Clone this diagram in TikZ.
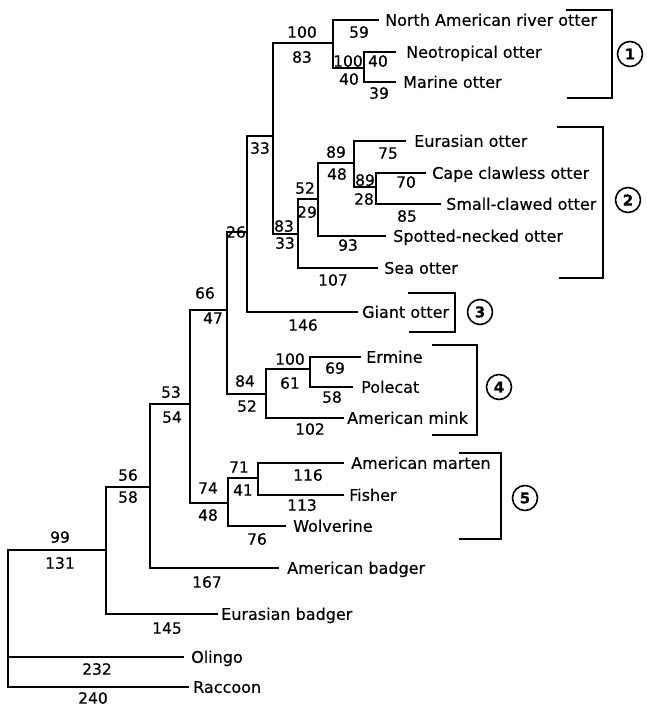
\documentclass[tikz,border=0pt]{standalone}
\usepackage{fontspec}
\setmainfont{DejaVu Sans}[FakeBold=0.4]
\begin{document}
\begin{tikzpicture}[x=1pt,y=-1pt,
  br/.style={line width=1.7pt, line cap=rect},
  leaf/.style={anchor=west, inner sep=0pt, text height=11.6pt, text depth=0pt, font=\fontsize{16}{18}\selectfont},
  num/.style={inner sep=0pt, text height=11.4pt, text depth=0pt, font=\fontsize{15.5}{18}\selectfont},
  grp/.style={circle, draw, line width=1.6pt, minimum size=25pt, inner sep=0pt, font=\fontsize{15}{18}\selectfont\bfseries}]
\useasboundingbox (0,0) rectangle (647,706);
% internal nodes (x of vertical, y of incoming branch)
\coordinate (R) at (8,550);
\coordinate (A) at (106,550);
\coordinate (B) at (150,487);
\coordinate (C) at (190,404);
\coordinate (D) at (228,503);
\coordinate (E) at (258,478);
\coordinate (F) at (227,310);
\coordinate (G) at (247,232);
\coordinate (H) at (273,136);
\coordinate (K) at (333,43);
\coordinate (P) at (364,68);
\coordinate (L) at (298,234);
\coordinate (M) at (318,199);
\coordinate (N) at (354,163);
\coordinate (O) at (376,187);
\coordinate (I) at (266,394);
\coordinate (J) at (310,369);
% leaves
\node[leaf] (nar) at (385,20) {North American river otter};
\node[leaf] (neo) at (406,52) {Neotropical otter};
\node[leaf] (mar) at (403,82) {Marine otter};
\node[leaf] (eur) at (414,141) {Eurasian otter};
\node[leaf] (cap) at (432,173) {Cape clawless otter};
\node[leaf] (sma) at (446,204) {Small-clawed otter};
\node[leaf] (spo) at (393,236) {Spotted-necked otter};
\node[leaf] (sea) at (384,268) {Sea otter};
\node[leaf] (gia) at (362,312) {Giant otter};
\node[leaf] (erm) at (366,357) {Ermine};
\node[leaf] (pol) at (361,387) {Polecat};
\node[leaf] (min) at (347,418) {American mink};
\node[leaf] (mat) at (351,463) {American marten};
\node[leaf] (fis) at (349,495) {Fisher};
\node[leaf] (wol) at (293,526) {Wolverine};
\node[leaf] (amb) at (287,568) {American badger};
\node[leaf] (eub) at (221,614) {Eurasian badger};
\node[leaf] (oli) at (191,657) {Olingo};
\node[leaf] (rac) at (193,687) {Raccoon};
% branches
\draw[br] (R) |- (A);
\draw[br] (R) |- ([xshift=-8pt]oli.west);
\draw[br] (R) |- ([xshift=-5pt]rac.west);
\draw[br] (A) |- (B);
\draw[br] (A) |- ([xshift=-4pt]eub.west);
\draw[br] (B) |- (C);
\draw[br] (B) |- ([xshift=-9pt]amb.west);
\draw[br] (C) |- (F);
\draw[br] (C) |- (D);
\draw[br] (D) |- (E);
\draw[br] (D) |- ([xshift=-8pt]wol.west);
\draw[br] (E) |- ([xshift=-8pt]mat.west);
\draw[br] (E) |- ([xshift=-6pt]fis.west);
\draw[br] (F) |- (G);
\draw[br] (F) |- (I);
\draw[br] (I) |- (J);
\draw[br] (I) |- ([xshift=-4pt]min.west);
\draw[br] (J) |- ([xshift=-6pt]erm.west);
\draw[br] (J) |- ([xshift=-9pt]pol.west);
\draw[br] (G) |- (H);
\draw[br] (G) |- ([xshift=-5pt]gia.west);
\draw[br] (H) |- (K);
\draw[br] (H) |- (L);
\draw[br] (K) |- ([xshift=-7pt]nar.west);
\draw[br] (K) |- (P);
\draw[br] (P) |- ([xshift=-11pt]neo.west);
\draw[br] (P) |- ([xshift=-8pt]mar.west);
\draw[br] (L) |- (M);
\draw[br] (L) |- ([xshift=-7pt]sea.west);
\draw[br] (M) |- (N);
\draw[br] (M) |- ([xshift=-8pt]spo.west);
\draw[br] (N) |- ([xshift=-9pt]eur.west);
\draw[br] (N) |- (O);
\draw[br] (O) |- ([xshift=-7pt]cap.west);
\draw[br] (O) |- ([xshift=-6pt]sma.west);
% branch labels
\node[num] (l1) at (60,537) {99};
\node[num] (l2) at (60,563) {131};
\node[num] (l3) at (97,669) {232};
\node[num] (l4) at (93,698) {240};
\node[num] (l5) at (128,475) {56};
\node[num] (l6) at (128,497) {58};
\node[num] (l7) at (167,628) {145};
\node[num] (l8) at (171,392) {53};
\node[num] (l9) at (172,417) {54};
\node[num] (l10) at (207,582) {167};
\node[num] (l11) at (205,293) {66};
\node[num] (l12) at (213,318) {47};
\node[num] (l13) at (208,488) {74};
\node[num] (l14) at (208,515) {48};
\node[num] (l15) at (239,467) {71};
\node[num] (l16) at (243,490) {41};
\node[num] (l17) at (257,539) {76};
\node[num] (l18) at (308,475) {116};
\node[num] (l19) at (302,505) {113};
\node[num] (l20) at (236,232) {26};
\node[num] (l21) at (245,381) {84};
\node[num] (l22) at (247,406) {52};
\node[num] (l23) at (260,148) {33};
\node[num] (l24) at (303,325) {146};
\node[num] (l25) at (302,32) {100};
\node[num] (l26) at (302,57) {83};
\node[num] (l27) at (284,226) {83};
\node[num] (l28) at (285,243) {33};
\node[num] (l29) at (359,32) {59};
\node[num] (l30) at (348,61) {100};
\node[num] (l31) at (349,79) {40};
\node[num] (l32) at (378,61) {40};
\node[num] (l33) at (379,93) {39};
\node[num] (l34) at (305,188) {52};
\node[num] (l35) at (307,212) {29};
\node[num] (l36) at (333,280) {107};
\node[num] (l37) at (336,152) {89};
\node[num] (l38) at (337,174) {48};
\node[num] (l39) at (348,245) {93};
\node[num] (l40) at (388,153) {75};
\node[num] (l41) at (365,180) {89};
\node[num] (l42) at (364,199) {28};
\node[num] (l43) at (406,182) {70};
\node[num] (l44) at (407,216) {85};
\node[num] (l45) at (290,359) {100};
\node[num] (l46) at (290,383) {61};
\node[num] (l47) at (310,429) {102};
\node[num] (l48) at (335,368) {69};
\node[num] (l49) at (332,397) {58};
% group brackets
\coordinate (b1t) at (567,10);  \coordinate (b1b) at (568,98);
\coordinate (b2t) at (558,127); \coordinate (b2b) at (560,278);
\coordinate (b3t) at (409,293); \coordinate (b3b) at (410,332);
\coordinate (b4t) at (433,345); \coordinate (b4b) at (433,435);
\coordinate (b5t) at (460,453); \coordinate (b5b) at (460,539);
\draw[br] (b1t) -| (612,54) |- (b1b);
\draw[br] (b2t) -| (603,200) |- (b2b);
\draw[br] (b3t) -| (455,312) |- (b3b);
\draw[br] (b4t) -| (477,390) |- (b4b);
\draw[br] (b5t) -| (501,496) |- (b5b);
\node[grp] (g1) at (630,54) {1};
\node[grp] (g2) at (628,200) {2};
\node[grp] (g3) at (480,312) {3};
\node[grp] (g4) at (499,387) {4};
\node[grp] (g5) at (525,498) {5};
\end{tikzpicture}
\end{document}
